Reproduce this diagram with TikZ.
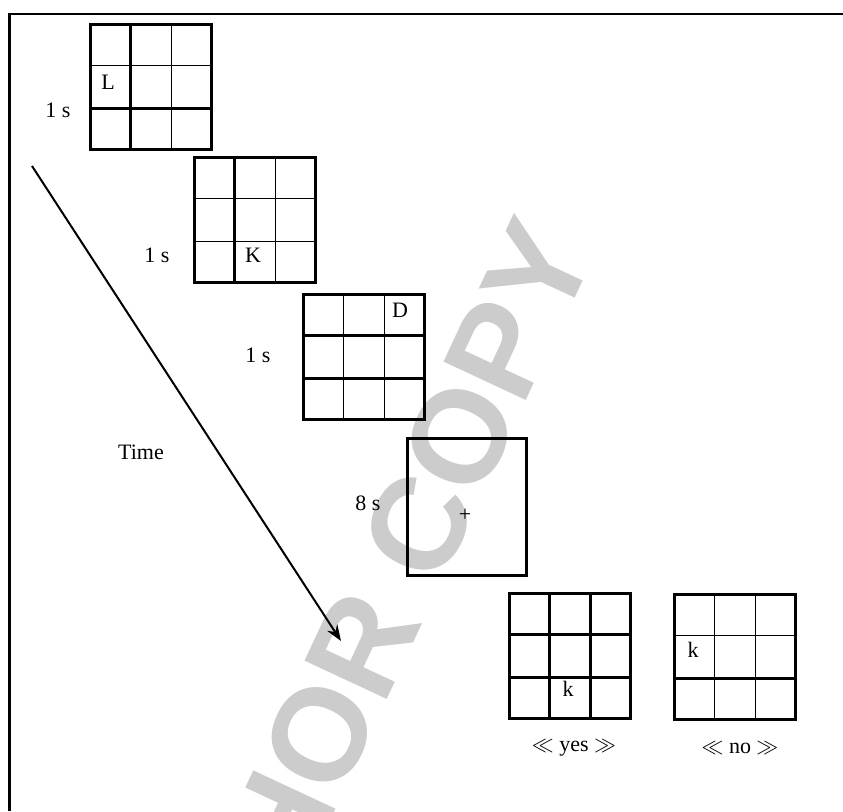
\documentclass[tikz,border=0pt]{standalone}
\usepackage{fontspec}
\setmainfont{Liberation Serif}
\newfontfamily\wmfont{Liberation Sans}
\usetikzlibrary{calc,arrows.meta}
\definecolor{wmgray}{RGB}{204,204,204}

% inner lines of a 3x3 panel
\newcommand{\gridcol}[3]{\draw[#3] ($(#1.north west)!#2/3!(#1.north east)$) -- ($(#1.south west)!#2/3!(#1.south east)$);}
\newcommand{\gridrow}[3]{\draw[#3] ($(#1.north west)!#2/3!(#1.south west)$) -- ($(#1.north east)!#2/3!(#1.south east)$);}

\begin{document}
\begin{tikzpicture}[x=0.5pt,y=-0.5pt,
  panel/.style={draw, line width=1.5pt, minimum width=60.5pt, minimum height=62.5pt, inner sep=0pt, anchor=north west},
  heavy/.style={line width=1.5pt},
  light/.style={line width=0.8pt},
  frame/.style={line width=1.3pt},
  txt/.style={font=\fontsize{11}{13}\selectfont, inner sep=0pt},
  watermark/.style={text=wmgray, font=\wmfont\bfseries\fontsize{66}{66}\selectfont, inner sep=0pt},
  timearrow/.style={line width=1pt, -{Stealth[length=8pt,width=6pt]}},
]
\useasboundingbox (0,0) rectangle (843,811);

% watermark behind everything
\node[watermark, rotate=65] (wm) at (350,672) {AUTHOR COPY};

% frame (cut at right and bottom)
\draw[frame] (9.5,811) -- (9.5,14) -- (843,14);

% panels
\node[panel] (g1) at (89,23) {};
\node[panel] (g2) at (193,156) {};
\node[panel] (g3) at (302,293) {};
\node[panel, line width=1.3pt, minimum width=59.5pt, minimum height=68.5pt] (fix) at (406,437) {};
\node[panel] (yes) at (508,592) {};
\node[panel] (no) at (673,593) {};

\foreach \g in {g1,g2,g3,yes,no}{
  \foreach \i in {1,2}{
    \gridcol{\g}{\i}{light}
    \gridrow{\g}{\i}{light}
  }
}

% heavy inner lines
\gridcol{g1}{1}{heavy}
\gridrow{g1}{2}{heavy}
\gridcol{g2}{1}{heavy}
\gridrow{g3}{1}{heavy}
\gridrow{g3}{2}{heavy}
\foreach \i in {1,2}{
  \gridcol{yes}{\i}{heavy}
  \gridrow{yes}{\i}{heavy}
}
\gridrow{no}{2}{heavy}

% letters
\node[txt] (lL) at ($(g1.north west)+(19,59)$) {L};
\node[txt] (lK) at ($(g2.north west)+(60,99)$) {K};
\node[txt] (lD) at ($(g3.north west)+(98,17)$) {D};
\node[txt] (cross) at ($(fix.north west)+(59,78)$) {+};
\node[txt] (lkyes) at ($(yes.north west)+(60,97)$) {k};
\node[txt] (lkno) at ($(no.north west)+(20,57)$) {k};

% durations
\node[txt] (d1) at (58,110) {1 s};
\node[txt] (d2) at (157,255) {1 s};
\node[txt] (d3) at (258,355) {1 s};
\node[txt] (d4) at (368,503) {8 s};

% answers
\node[txt] (ayes) at (574,748) {$\ll$ yes $\gg$};
\node[txt] (ano) at (740,748) {$\ll$ no $\gg$};

% time axis
\node[txt] (time) at (141,452) {Time};
\coordinate (t0) at (32,166);
\coordinate (t1) at (341,641);
\draw[timearrow] (t0) -- (t1);
\end{tikzpicture}
\end{document}
